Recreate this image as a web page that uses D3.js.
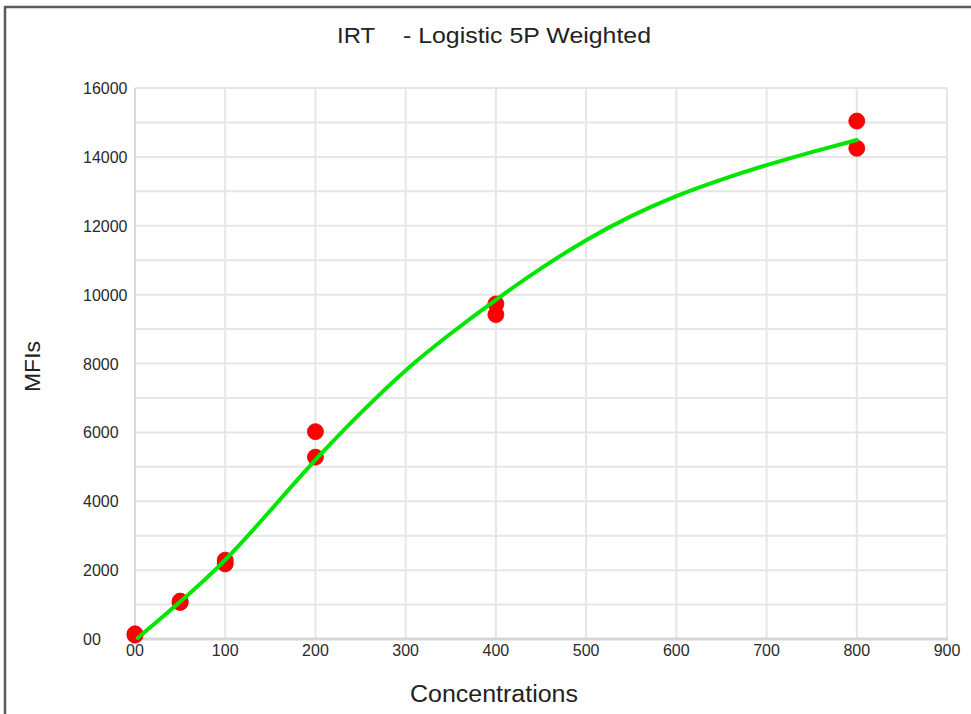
<!DOCTYPE html>
<html>
<head>
<meta charset="utf-8">
<script src="https://cdn.jsdelivr.net/npm/d3@7"></script>
<style>
  html, body { margin: 0; padding: 0; background: #ffffff; }
  svg { display: block; }
</style>
</head>
<body>
<svg id="chart" width="971" height="714"></svg>
<script>
// ---- data ----
const pointConc = [0, 0, 50, 50, 100, 100, 200, 200, 400, 400, 800, 800];
const pointMFI  = [110, 150, 1060, 1100, 2180, 2290, 5280, 6020, 9420, 9730, 14250, 15040];

const curveConc = [3, 50, 100, 150, 200, 250, 300, 350, 400, 450, 500, 550, 600, 650, 700, 750, 800];
const curveMFI  = [30, 1080, 2300, 3730, 5200, 6560, 7800, 8870, 9850, 10760, 11580, 12280, 12860, 13340, 13760, 14140, 14490];

const xTicks = [0, 100, 200, 300, 400, 500, 600, 700, 800, 900];
const xTickLabels = ["00", "100", "200", "300", "400", "500", "600", "700", "800", "900"];
const yTicks = [0, 2000, 4000, 6000, 8000, 10000, 12000, 14000, 16000];
const yTickLabels = ["00", "2000", "4000", "6000", "8000", "10000", "12000", "14000", "16000"];
const yGrid = d3.range(0, 16001, 1000);

const titleLeft = "IRT";
const titleRight = "- Logistic 5P Weighted";
const xTitle = "Concentrations";
const yTitle = "MFIs";

// ---- layout ----
const svg = d3.select("#chart");
const W = 971, H = 714;
const plot = { left: 135, right: 947, top: 88, bottom: 639 };

const x = d3.scaleLinear().domain([0, 900]).range([plot.left, plot.right]);
const y = d3.scaleLinear().domain([0, 16000]).range([plot.bottom, plot.top]);

svg.append("rect").attr("width", W).attr("height", H).attr("fill", "#ffffff");

// outer frame (top + left)
svg.append("line").attr("x1", 4).attr("x2", W).attr("y1", 7).attr("y2", 7)
  .attr("stroke", "#5a5a5a").attr("stroke-width", 2.5);
svg.append("line").attr("x1", 5).attr("x2", 5).attr("y1", 6).attr("y2", H)
  .attr("stroke", "#5a5a5a").attr("stroke-width", 2.5);

// grid
const grid = svg.append("g");
grid.selectAll("line.h").data(yGrid).enter().append("line")
  .attr("x1", plot.left).attr("x2", plot.right)
  .attr("y1", d => y(d)).attr("y2", d => y(d))
  .attr("stroke", "#e6e6e6").attr("stroke-width", 2);
grid.selectAll("line.v").data(xTicks).enter().append("line")
  .attr("x1", d => x(d)).attr("x2", d => x(d))
  .attr("y1", plot.top).attr("y2", plot.bottom)
  .attr("stroke", "#e6e6e6").attr("stroke-width", 2);

// axis lines
svg.append("line").attr("x1", plot.left).attr("x2", plot.left)
  .attr("y1", plot.top).attr("y2", plot.bottom)
  .attr("stroke", "#d8d8d8").attr("stroke-width", 2);
svg.append("line").attr("x1", plot.left - 1).attr("x2", plot.right + 1)
  .attr("y1", plot.bottom).attr("y2", plot.bottom)
  .attr("stroke", "#d6d6d6").attr("stroke-width", 3);

// tick labels
const tickFont = "'Liberation Sans', Arial, sans-serif";
svg.append("g").selectAll("text").data(yTicks).enter().append("text")
  .attr("x", 83).attr("y", d => y(d) + 6)
  .attr("font-family", tickFont).attr("font-size", 16)
  .attr("fill", "#2a2a2a").attr("text-anchor", "start")
  .text((d, i) => yTickLabels[i]);
svg.append("g").selectAll("text").data(xTicks).enter().append("text")
  .attr("x", d => x(d)).attr("y", 656)
  .attr("font-family", tickFont).attr("font-size", 16)
  .attr("fill", "#2a2a2a").attr("text-anchor", "middle")
  .text((d, i) => xTickLabels[i]);

// points
const pts = pointConc.map((c, i) => ({ c, v: pointMFI[i] }));
svg.append("g").selectAll("circle").data(pts).enter().append("circle")
  .attr("cx", d => x(d.c)).attr("cy", d => y(d.v)).attr("r", 8)
  .attr("fill", "#ff0000").attr("stroke", "#e00000").attr("stroke-width", 0.8);

// fitted curve
const curve = curveConc.map((c, i) => ({ c, v: curveMFI[i] }));
const line = d3.line().x(d => x(d.c)).y(d => y(d.v)).curve(d3.curveNatural);
svg.append("path").datum(curve).attr("d", line)
  .attr("fill", "none").attr("stroke", "#00e600").attr("stroke-width", 4)
  .attr("stroke-linecap", "round").attr("stroke-linejoin", "round");

// titles
const titleFont = "'Liberation Sans Narrow', 'Arial Narrow', 'Liberation Sans', Arial, sans-serif";
svg.append("text").attr("x", 337).attr("y", 43)
  .attr("font-family", titleFont).attr("font-size", 22).attr("fill", "#222")
  .attr("textLength", 38).attr("lengthAdjust", "spacingAndGlyphs")
  .text(titleLeft);
svg.append("text").attr("x", 403).attr("y", 43)
  .attr("font-family", titleFont).attr("font-size", 22).attr("fill", "#222")
  .attr("textLength", 248).attr("lengthAdjust", "spacingAndGlyphs")
  .text(titleRight);

svg.append("text").attr("x", 410).attr("y", 702)
  .attr("font-family", titleFont).attr("font-size", 23).attr("fill", "#222")
  .attr("textLength", 168).attr("lengthAdjust", "spacingAndGlyphs")
  .text(xTitle);

svg.append("text")
  .attr("transform", "translate(40,392) rotate(-90)")
  .attr("font-family", titleFont).attr("font-size", 22).attr("fill", "#222")
  .attr("textLength", 51).attr("lengthAdjust", "spacingAndGlyphs")
  .text(yTitle);
</script>
</body>
</html>
